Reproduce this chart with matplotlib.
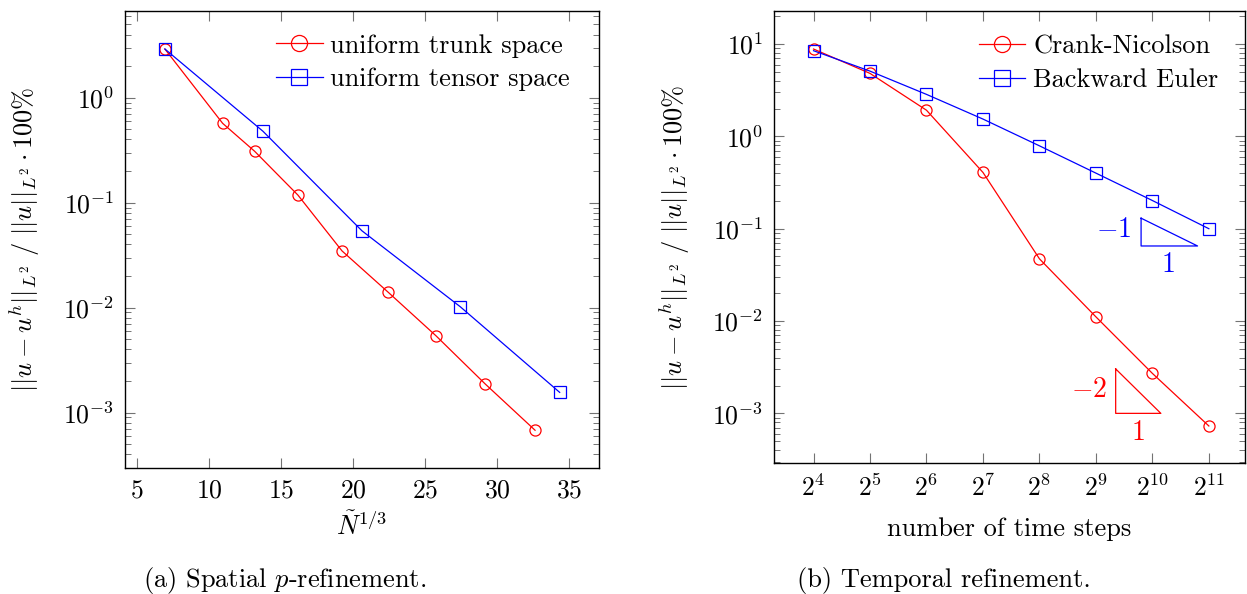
import numpy as np
import matplotlib
matplotlib.use("Agg")
import matplotlib.pyplot as plt
from matplotlib.ticker import FixedLocator, FuncFormatter, LogLocator, NullLocator

plt.rcParams['font.family'] = 'serif'
plt.rcParams['font.serif'] = ['cmr10', 'DejaVu Serif']
plt.rcParams['mathtext.fontset'] = 'cm'
plt.rcParams['axes.formatter.use_mathtext'] = True
plt.rcParams['axes.unicode_minus'] = True

# (a) spatial p-refinement
N_trunk = [6.92, 10.93, 13.15, 16.16, 19.22, 22.43, 25.74, 29.17, 32.62]
err_trunk = [2.91, 0.570, 0.309, 0.118, 0.0347, 0.0140, 0.0054, 0.00187, 0.00068]
N_tensor = [6.92, 13.73, 20.60, 27.43, 34.33]
err_tensor = [2.91, 0.479, 0.054, 0.0102, 0.00156]

# (b) temporal refinement
steps = [2**4, 2**5, 2**6, 2**7, 2**8, 2**9, 2**10, 2**11]
err_cn = [8.83, 4.81, 1.92, 0.407, 0.0472, 0.0111, 0.00271, 0.00073]
err_be = [8.47, 5.09, 2.85, 1.54, 0.79, 0.40, 0.202, 0.100]

ylab = r'$||u-u^h||_{L^2}\ /\ ||u||_{L^2} \cdot 100\%$'
FS = 19

fig = plt.figure(figsize=(12.47, 5.94), dpi=100)
W, H = 1247, 594
ax1 = fig.add_axes([125/W, 1-468/H, (599-125)/W, (468-11)/H])
ax2 = fig.add_axes([774/W, 1-463/H, (1245-774)/W, (463-11)/H])

def style(ax):
    ax.tick_params(which='both', direction='in', top=True, right=True,
                   color='0.45', labelsize=FS-0.5, pad=8)
    ax.tick_params(which='major', length=7, width=0.8)
    ax.tick_params(which='minor', length=4.5, width=0.7)
    for s in ax.spines.values():
        s.set_linewidth(1.0)

mk = dict(markersize=8, markerfacecolor='none', markeredgewidth=0.9, linewidth=0.9)
leg = dict(loc='upper right', frameon=False, fontsize=FS, markerscale=1.45,
           handlelength=1.75, borderpad=0, borderaxespad=0, labelspacing=0.38,
           handletextpad=0.3)

# left plot
ax1.plot(N_trunk, err_trunk, color='red', marker='o', label='uniform trunk space', **mk)
ax1.plot(N_tensor, err_tensor, color='blue', marker='s', label='uniform tensor space', **mk)
ax1.set_yscale('log')
ax1.set_xlim(4.15, 37.06)
ax1.set_ylim(2.97e-4, 6.7)
ax1.xaxis.set_major_locator(FixedLocator([5, 10, 15, 20, 25, 30, 35]))
ax1.xaxis.set_minor_locator(NullLocator())
ax1.yaxis.set_major_locator(LogLocator(base=10, numticks=10))
ax1.yaxis.set_minor_locator(LogLocator(base=10, subs=np.arange(2, 10), numticks=20))
style(ax1)
ax1.set_xlabel(r'$\tilde{N}^{1/3}$', fontsize=FS)
ax1.xaxis.set_label_coords(0.5, -0.095)
ax1.set_ylabel(ylab, fontsize=FS)
ax1.yaxis.set_label_coords(-0.175, 0.5)
ax1.legend(bbox_to_anchor=(0.939, 0.95), **leg)

# right plot
ax2.plot(steps, err_cn, color='red', marker='o', label='Crank-Nicolson', **mk)
ax2.plot(steps, err_be, color='blue', marker='s', label='Backward Euler', **mk)
ax2.set_xscale('log', base=2)
ax2.set_yscale('log')
ax2.set_xlim(2**3.30, 2**11.64)
ax2.set_ylim(2.9e-4, 22.8)
ax2.xaxis.set_major_locator(FixedLocator(steps))
ax2.xaxis.set_major_formatter(FuncFormatter(lambda v, p: r'$2^{%d}$' % round(np.log2(v))))
ax2.xaxis.set_minor_locator(NullLocator())
ax2.yaxis.set_major_locator(LogLocator(base=10, numticks=10))
ax2.yaxis.set_minor_locator(LogLocator(base=10, subs=np.arange(2, 10), numticks=20))
style(ax2)
ax2.set_xlabel('number of time steps', fontsize=FS)
ax2.xaxis.set_label_coords(0.5, -0.12)
ax2.set_ylabel(ylab, fontsize=FS)
ax2.yaxis.set_label_coords(-0.175, 0.5)
ax2.legend(bbox_to_anchor=(0.943, 0.947), **leg)

# slope triangles
bx0, bx1, by0 = 2**9.8, 2**10.8, 0.065
ax2.plot([bx0, bx0, bx1, bx0], [by0 * 2, by0, by0, by0 * 2], color='blue', linewidth=0.9)
ax2.text(2**9.31, 0.097, r'$-1$', color='blue', fontsize=FS+1, ha='center', va='center')
ax2.text(2**10.28, 0.0405, r'$1$', color='blue', fontsize=FS+1, ha='center', va='center')
rx0, rx1, ry0 = 2**9.35, 2**10.15, 0.001
ax2.plot([rx0, rx0, rx1, rx0], [ry0 * 4**0.8, ry0, ry0, ry0 * 4**0.8], color='red', linewidth=0.9)
ax2.text(2**8.87, 0.00179, r'$-2$', color='red', fontsize=FS+1, ha='center', va='center')
ax2.text(2**9.74, 0.00061, r'$1$', color='red', fontsize=FS+1, ha='center', va='center')

fig.text(285/W, 1-580/H, r'(a) Spatial $p$-refinement.', fontsize=FS, ha='center', va='center')
fig.text(944/W, 1-580/H, '(b) Temporal refinement.', fontsize=FS, ha='center', va='center')

fig.savefig('out.png', dpi=100)
